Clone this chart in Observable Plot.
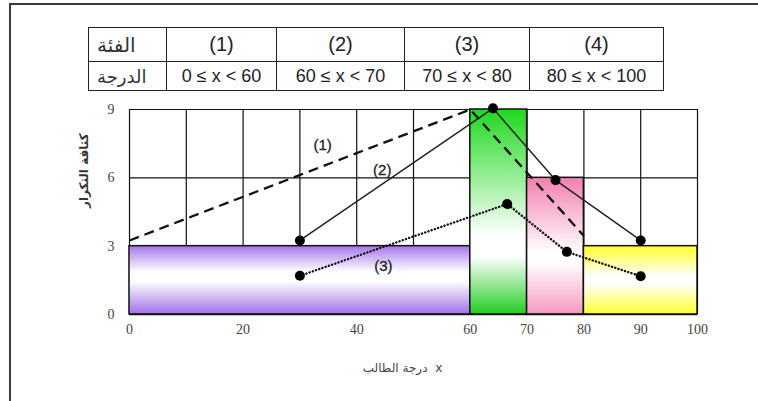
<!DOCTYPE html>
<html>
<head>
<meta charset="utf-8">
<script src="https://cdn.jsdelivr.net/npm/d3@7"></script>
<script src="https://cdn.jsdelivr.net/npm/@observablehq/plot@0.6"></script>
<style>
  html, body { margin: 0; padding: 0; background: #fff; }
  #wrap { position: relative; width: 758px; height: 401px; overflow: hidden; background: #fff; }
  #frame { position: absolute; left: 9px; top: 3px; width: 760px; height: 410px;
           border-top: 2px solid #3a3a3a; border-left: 2px solid #3a3a3a; box-sizing: border-box; pointer-events: none; }
  #tbl { position: absolute; left: 88px; top: 27px; border-collapse: collapse; table-layout: fixed;
         font-family: "Liberation Sans", Arial, sans-serif; color: #222; border: 1.5px solid #222; }
  #tbl td { border: 1px solid #222; padding: 0; text-align: center; white-space: nowrap; overflow: hidden; }
  #tbl td.head { font-size: 10px; color: #333; font-family: "DejaVu Sans", sans-serif; text-align: left; padding-left: 8px; }
  #tbl tr.r1 td { height: 33px; font-size: 20px; }
  #tbl tr.r2 td { height: 28px; font-size: 18px; }
  svg.plot { position: absolute; left: 0; top: 0; }
</style>
</head>
<body>
<div id="wrap"></div>
<script>
// ---- data ----
const rowHeads = ["الفئة", "الدرجة"];
const classLabels = ["(1)", "(2)", "(3)", "(4)"];
const rangeLabels = ["0 ≤ x < 60", "60 ≤ x < 70", "70 ≤ x < 80", "80 ≤ x < 100"];
const colWidths = [78, 110, 128, 125, 134];

const binStart = [0, 60, 70, 80];
const binEnd = [60, 70, 80, 100];
const density = [3, 9, 6, 3];
const binColors = [
  ["#a374ea", "#ffffff", "#ffffff", "#a070e6"],
  ["#1fd81f", "#ffffff", "#ffffff", "#22cc22"],
  ["#f27fb0", "#ffffff", "#ffffff", "#f39ac0"],
  ["#ffff2a", "#ffffff", "#ffffff", "#ffff33"]
];
const binStops = [
  [0, 0.38, 0.52, 1],
  [0, 0.62, 0.72, 1],
  [0, 0.55, 0.62, 1],
  [0, 0.45, 0.55, 1]
];

const line1X = [0, 60, 80];
const line1Y = [3.25, 9, 3.45];
const line2X = [30, 64, 75, 90];
const line2Y = [3.25, 9.05, 5.9, 3.25];
const line3X = [30, 66.5, 77, 90];
const line3Y = [1.7, 4.85, 2.75, 1.68];

const labelText = ["(1)", "(2)", "(3)"];
const labelX = [34, 44.5, 44.7];
const labelY = [7.45, 6.35, 2.1];

const xTicks = [0, 20, 40, 60, 70, 80, 90, 100];
const yTicks = [0, 3, 6, 9];
const gridX = [0, 10, 20, 30, 40, 50, 60, 70, 80, 90, 100];
const gridY = [3, 6, 9];
const xLabel = "درجة الطالب  x";
const yLabel = "كثافة التكرار";

// ---- table ----
const wrap = document.getElementById("wrap");
const tbl = document.createElement("table");
tbl.id = "tbl";
const cg = document.createElement("colgroup");
colWidths.forEach(w => { const c = document.createElement("col"); c.style.width = w + "px"; cg.appendChild(c); });
tbl.appendChild(cg);
[[rowHeads[0], ...classLabels], [rowHeads[1], ...rangeLabels]].forEach((row, ri) => {
  const tr = document.createElement("tr");
  tr.className = "r" + (ri + 1);
  row.forEach((t, ci) => {
    const td = document.createElement("td");
    td.textContent = t;
    if (ci === 0) { td.className = "head"; }
    tr.appendChild(td);
  });
  tbl.appendChild(tr);
});
tbl.style.width = d3.sum(colWidths) + "px";

// ---- plot ----
const bins = binStart.map((s, i) => ({x1: s, x2: binEnd[i], y: density[i], i}));
const pts = (xs, ys) => xs.map((x, i) => ({x, y: ys[i]}));
const l1 = pts(line1X, line1Y), l2 = pts(line2X, line2Y), l3 = pts(line3X, line3Y);
const labels = labelText.map((t, i) => ({t, x: labelX[i], y: labelY[i]}));

const defsMark = () => {
  const ns = "http://www.w3.org/2000/svg";
  const defs = document.createElementNS(ns, "defs");
  binColors.forEach((cols, i) => {
    const g = document.createElementNS(ns, "linearGradient");
    g.setAttribute("id", "grad" + i);
    g.setAttribute("x1", "0"); g.setAttribute("y1", "0");
    g.setAttribute("x2", "0"); g.setAttribute("y2", "1");
    cols.forEach((c, k) => {
      const st = document.createElementNS(ns, "stop");
      st.setAttribute("offset", binStops[i][k]);
      st.setAttribute("stop-color", c);
      g.appendChild(st);
    });
    defs.appendChild(g);
  });
  return defs;
};

const plot = Plot.plot({
  width: 758,
  height: 401,
  marginLeft: 129,
  marginRight: 61,
  marginTop: 109,
  marginBottom: 87,
  style: {background: "transparent", overflow: "visible"},
  x: {domain: [0, 100]},
  y: {domain: [0, 9]},
  marks: [
    defsMark,
    Plot.ruleX(gridX, {stroke: "#111", strokeWidth: 1.2, strokeOpacity: 1}),
    Plot.ruleY(gridY, {stroke: "#111", strokeWidth: 1.2, strokeOpacity: 1}),
    ...bins.map(b => Plot.rectY([b], {x1: "x1", x2: "x2", y: "y", fill: `url(#grad${b.i})`, stroke: "#111", strokeWidth: 1.5, insetLeft: 0, insetRight: 0})),
    Plot.ruleY([0], {stroke: "#111", strokeWidth: 1.5}),
    Plot.line(l1, {x: "x", y: "y", stroke: "#111", strokeWidth: 2.3, strokeDasharray: "10,6", strokeLinecap: "butt"}),
    Plot.line(l2, {x: "x", y: "y", stroke: "#222", strokeWidth: 1.5}),
    Plot.line(l3, {x: "x", y: "y", stroke: "#111", strokeWidth: 2.4, strokeDasharray: "0.1,3.3", strokeLinecap: "round"}),
    Plot.dot(l2, {x: "x", y: "y", r: 5, fill: "#000"}),
    Plot.dot(l3, {x: "x", y: "y", r: 5, fill: "#000"}),
    Plot.text(labels, {x: "x", y: "y", text: "t", fontSize: 15, fill: "#222", stroke: "#222", strokeWidth: 0.3, fontFamily: "Liberation Sans, Arial, sans-serif"}),
    Plot.axisX({ticks: xTicks, tickSize: 0, tickPadding: 10, fontSize: 14, fontFamily: "Liberation Serif, serif", fill: "#444", label: null}),
    Plot.axisY({ticks: yTicks, tickSize: 0, tickPadding: 15, fontSize: 14, fontFamily: "Liberation Serif, serif", fill: "#444", label: null}),
    Plot.text([xLabel], {frameAnchor: "bottom", dy: 57, dx: -11, fontSize: 12, fill: "#444", fontFamily: "DejaVu Sans, sans-serif"}),
    Plot.text([yLabel], {frameAnchor: "left", dx: -45, dy: -4, rotate: -90, fontSize: 12, fontWeight: "bold", fill: "#333", fontFamily: "DejaVu Sans, sans-serif"})
  ]
});
wrap.appendChild(plot);
wrap.appendChild(tbl);
const fr = document.createElement("div");
fr.id = "frame";
wrap.appendChild(fr);
</script>
</body>
</html>
